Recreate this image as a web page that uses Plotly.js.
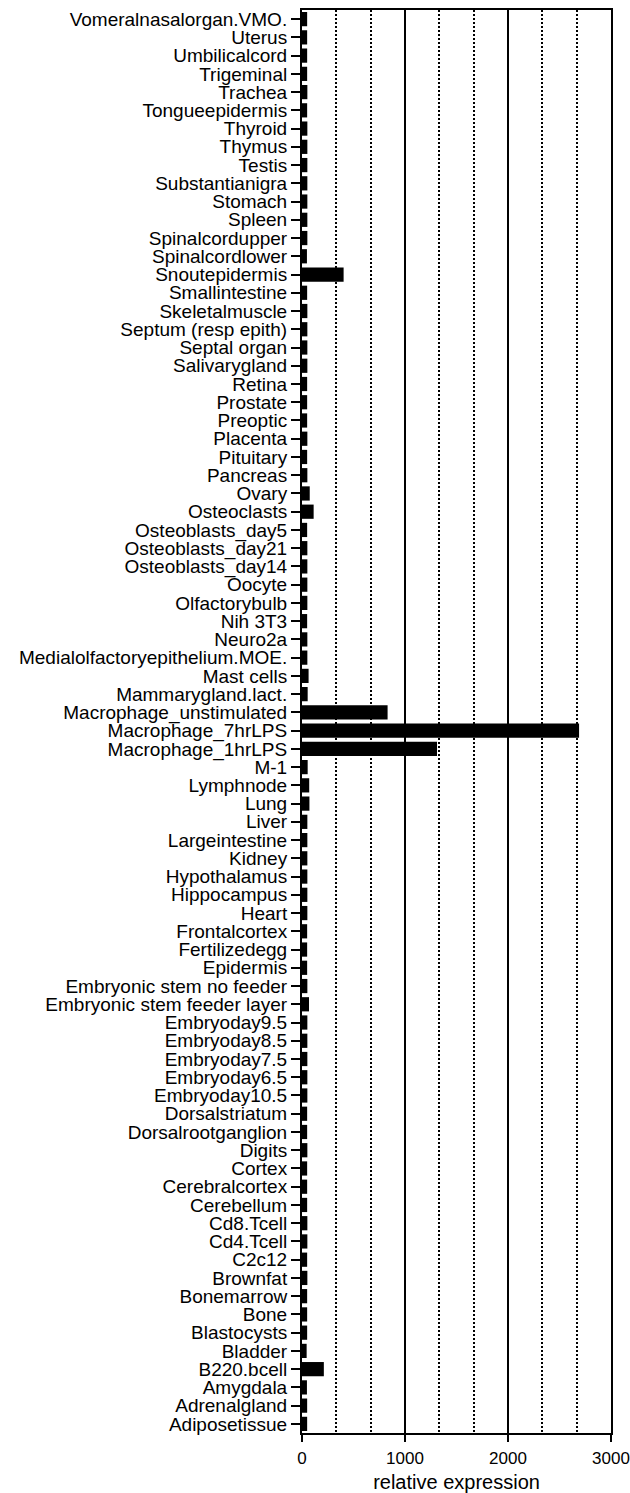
<!DOCTYPE html>
<html>
<head>
<meta charset="utf-8">
<script src="https://cdn.plot.ly/plotly-3.0.1.min.js"></script>
<style>html,body{margin:0;padding:0;background:#fff;}#chart{width:630px;height:1493px;}</style>
</head>
<body>
<div id="chart"></div>
<script>
// categories listed bottom-to-top as drawn
const tissues = [
  "Adiposetissue","Adrenalgland","Amygdala","B220.bcell","Bladder","Blastocysts","Bone","Bonemarrow",
  "Brownfat","C2c12","Cd4.Tcell","Cd8.Tcell","Cerebellum","Cerebralcortex","Cortex","Digits",
  "Dorsalrootganglion","Dorsalstriatum","Embryoday10.5","Embryoday6.5","Embryoday7.5","Embryoday8.5",
  "Embryoday9.5","Embryonic stem feeder layer","Embryonic stem no feeder","Epidermis","Fertilizedegg",
  "Frontalcortex","Heart","Hippocampus","Hypothalamus","Kidney","Largeintestine","Liver","Lung",
  "Lymphnode","M-1","Macrophage_1hrLPS","Macrophage_7hrLPS","Macrophage_unstimulated",
  "Mammarygland.lact.","Mast cells","Medialolfactoryepithelium.MOE.","Neuro2a","Nih 3T3",
  "Olfactorybulb","Oocyte","Osteoblasts_day14","Osteoblasts_day21","Osteoblasts_day5","Osteoclasts",
  "Ovary","Pancreas","Pituitary","Placenta","Preoptic","Prostate","Retina","Salivarygland",
  "Septal organ","Septum (resp epith)","Skeletalmuscle","Smallintestine","Snoutepidermis",
  "Spinalcordlower","Spinalcordupper","Spleen","Stomach","Substantianigra","Testis","Thymus",
  "Thyroid","Tongueepidermis","Trachea","Trigeminal","Umbilicalcord","Uterus","Vomeralnasalorgan.VMO."
];
const expression = [
  50,50,48,212,45,50,50,50,
  52,50,52,52,50,50,50,52,
  50,50,52,52,52,52,
  52,68,52,50,50,
  50,52,52,52,52,52,52,72,
  70,55,1311,2690,831,
  55,64,52,52,50,
  52,52,52,52,50,113,
  75,52,50,52,50,50,50,52,
  52,52,52,50,404,
  48,52,52,52,52,52,52,
  52,50,52,50,50,50,50
];
const xTickVals = [0,1000,2000,3000];
const xTickText = ["0","1000","2000","3000"];

const trace = {
  type: "bar",
  orientation: "h",
  y: tissues,
  x: expression,
  marker: {color: "#000000", line: {width: 0}},
  hoverinfo: "x+y"
};

const layout = {
  width: 630,
  height: 1493,
  margin: {l: 302, r: 19, t: 10, b: 60, pad: 0},
  paper_bgcolor: "#ffffff",
  plot_bgcolor: "#ffffff",
  showlegend: false,
  bargap: 0.22,
  font: {family: "Liberation Sans, Arial, sans-serif", color: "#000000"},
  xaxis: {
    range: [0, 3000],
    tickmode: "array",
    tickvals: xTickVals,
    ticktext: xTickText,
    ticks: "outside",
    ticklen: 7,
    tickwidth: 2,
    tickcolor: "#000",
    ticklabelstandoff: 2,
    showline: true,
    linewidth: 2,
    linecolor: "#000",
    mirror: true,
    zeroline: false,
    showgrid: true,
    gridcolor: "#000",
    gridwidth: 2,
    minor: {dtick: 1000/3, tick0: 0, showgrid: true, griddash: "2px,2px", gridcolor: "#000", gridwidth: 2, ticks: ""},
    tickfont: {size: 17, family: "Liberation Sans, Arial, sans-serif", color: "#000"},
    title: {text: "relative expression", font: {size: 20, family: "Liberation Sans, Arial, sans-serif", color: "#000"}, standoff: 10},
    fixedrange: true
  },
  yaxis: {
    type: "category",
    range: [-0.5, tissues.length - 0.5],
    tickmode: "array",
    tickvals: tissues,
    ticktext: tissues,
    ticks: "outside",
    ticklen: 9,
    tickwidth: 2,
    tickcolor: "#000",
    showline: true,
    linewidth: 2,
    linecolor: "#000",
    mirror: true,
    showgrid: false,
    zeroline: false,
    automargin: false,
    tickfont: {size: 19, family: "Liberation Sans, Arial, sans-serif", color: "#000"},
    fixedrange: true
  }
};

Plotly.newPlot("chart", [trace], layout, {displayModeBar: false, staticPlot: true});
</script>
</body>
</html>
